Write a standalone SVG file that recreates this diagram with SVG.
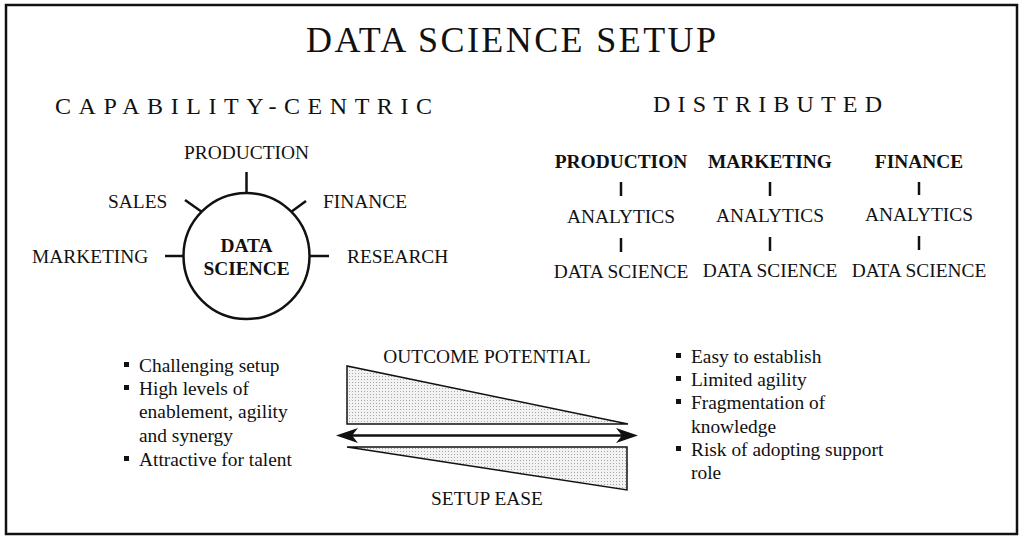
<svg xmlns="http://www.w3.org/2000/svg" width="1024" height="543" viewBox="0 0 1024 543">
<defs>
<pattern id="dots" width="3" height="3" patternUnits="userSpaceOnUse">
<rect width="3" height="3" fill="#f2f2f2"/>
<rect x="1" y="1" width="1" height="1" fill="#a8a8a8"/>
</pattern>
</defs>
<style>
text{font-family:"Liberation Serif","Times New Roman",serif;fill:#111;}
.t{font-size:19.4px;}
.b{font-size:19.4px;font-weight:bold;}
.h{font-size:24px;}
.ln{stroke:#111;stroke-width:2.5;fill:none;}
.tri{fill:url(#dots);stroke:#111;stroke-width:1.5;}
.sq{fill:#111;}
</style>
<rect x="6" y="5" width="1011" height="529" fill="#fff" stroke="#111" stroke-width="2.5"/>
<text x="511" y="52" font-size="36" text-anchor="middle" textLength="410" lengthAdjust="spacing">DATA SCIENCE SETUP</text>
<text x="55" y="114" class="h" textLength="377" lengthAdjust="spacing">CAPABILITY-CENTRIC</text>
<text x="653" y="112" class="h" textLength="229" lengthAdjust="spacing">DISTRIBUTED</text>

<g id="capability">
<g id="ds-center">
<circle cx="246.5" cy="256" r="63" class="ln"/>
<text x="246.5" y="251.5" class="b" text-anchor="middle">DATA</text>
<text x="246.5" y="275" class="b" text-anchor="middle">SCIENCE</text>
</g>
<g id="cap-production"><text x="246.5" y="159" class="t" text-anchor="middle">PRODUCTION</text></g>
<g id="cap-sales"><text x="108" y="208" class="t">SALES</text></g>
<g id="cap-finance"><text x="323" y="208" class="t">FINANCE</text></g>
<g id="cap-marketing"><text x="32" y="263" class="t">MARKETING</text></g>
<g id="cap-research"><text x="347" y="263" class="t">RESEARCH</text></g>
</g>

<g id="connectors">
<line x1="246.5" y1="172" x2="246.5" y2="193" class="ln"/>
<line x1="185" y1="200" x2="202" y2="212" class="ln"/>
<line x1="291" y1="212" x2="306" y2="201" class="ln"/>
<line x1="165" y1="256" x2="183.5" y2="256" class="ln"/>
<line x1="309.5" y1="256" x2="329" y2="256" class="ln"/>
<line x1="621" y1="182" x2="621" y2="196" class="ln"/>
<line x1="621" y1="238" x2="621" y2="252" class="ln"/>
<line x1="770" y1="182" x2="770" y2="196" class="ln"/>
<line x1="770" y1="237" x2="770" y2="251" class="ln"/>
<line x1="919" y1="182" x2="919" y2="195" class="ln"/>
<line x1="919" y1="236" x2="919" y2="250" class="ln"/>
</g>

<g id="dist-production">
<text x="621" y="168" class="b" text-anchor="middle">PRODUCTION</text>
<text x="621" y="223" class="t" text-anchor="middle">ANALYTICS</text>
<text x="621" y="278" class="t" text-anchor="middle">DATA SCIENCE</text>
</g>
<g id="dist-marketing">
<text x="770" y="168" class="b" text-anchor="middle">MARKETING</text>
<text x="770" y="222" class="t" text-anchor="middle">ANALYTICS</text>
<text x="770" y="277" class="t" text-anchor="middle">DATA SCIENCE</text>
</g>
<g id="dist-finance">
<text x="919" y="168" class="b" text-anchor="middle">FINANCE</text>
<text x="919" y="221" class="t" text-anchor="middle">ANALYTICS</text>
<text x="919" y="277" class="t" text-anchor="middle">DATA SCIENCE</text>
</g>

<g id="left-bullets">
<rect x="124" y="362" width="5" height="5" class="sq"/>
<text x="139" y="372" class="t">Challenging setup</text>
<rect x="124" y="385" width="5" height="5" class="sq"/>
<text x="139" y="395" class="t">High levels of</text>
<text x="139" y="418" class="t">enablement, agility</text>
<text x="139" y="442" class="t">and synergy</text>
<rect x="124" y="456" width="5" height="5" class="sq"/>
<text x="139" y="466" class="t">Attractive for talent</text>
</g>

<g id="scale">
<text x="487" y="363" class="t" text-anchor="middle">OUTCOME POTENTIAL</text>
<polygon points="347,366 347,424 628,424" class="tri"/>
<polygon points="347,447 627,447 627,490" class="tri"/>
<line x1="348" y1="435.5" x2="626" y2="435.5" stroke="#111" stroke-width="2.5"/>
<path d="M336,435.5 L358,428 L352,435.5 L358,443 Z" fill="#111"/>
<path d="M638,435.5 L616,428 L622,435.5 L616,443 Z" fill="#111"/>
<text x="487" y="505" class="t" text-anchor="middle">SETUP EASE</text>
</g>

<g id="right-bullets">
<rect x="676" y="353" width="5" height="5" class="sq"/>
<text x="691" y="363" class="t">Easy to establish</text>
<rect x="676" y="376" width="5" height="5" class="sq"/>
<text x="691" y="386" class="t">Limited agility</text>
<rect x="676" y="399" width="5" height="5" class="sq"/>
<text x="691" y="409" class="t">Fragmentation of</text>
<text x="691" y="433" class="t">knowledge</text>
<rect x="676" y="446" width="5" height="5" class="sq"/>
<text x="691" y="456" class="t">Risk of adopting support</text>
<text x="691" y="479" class="t">role</text>
</g>
</svg>
